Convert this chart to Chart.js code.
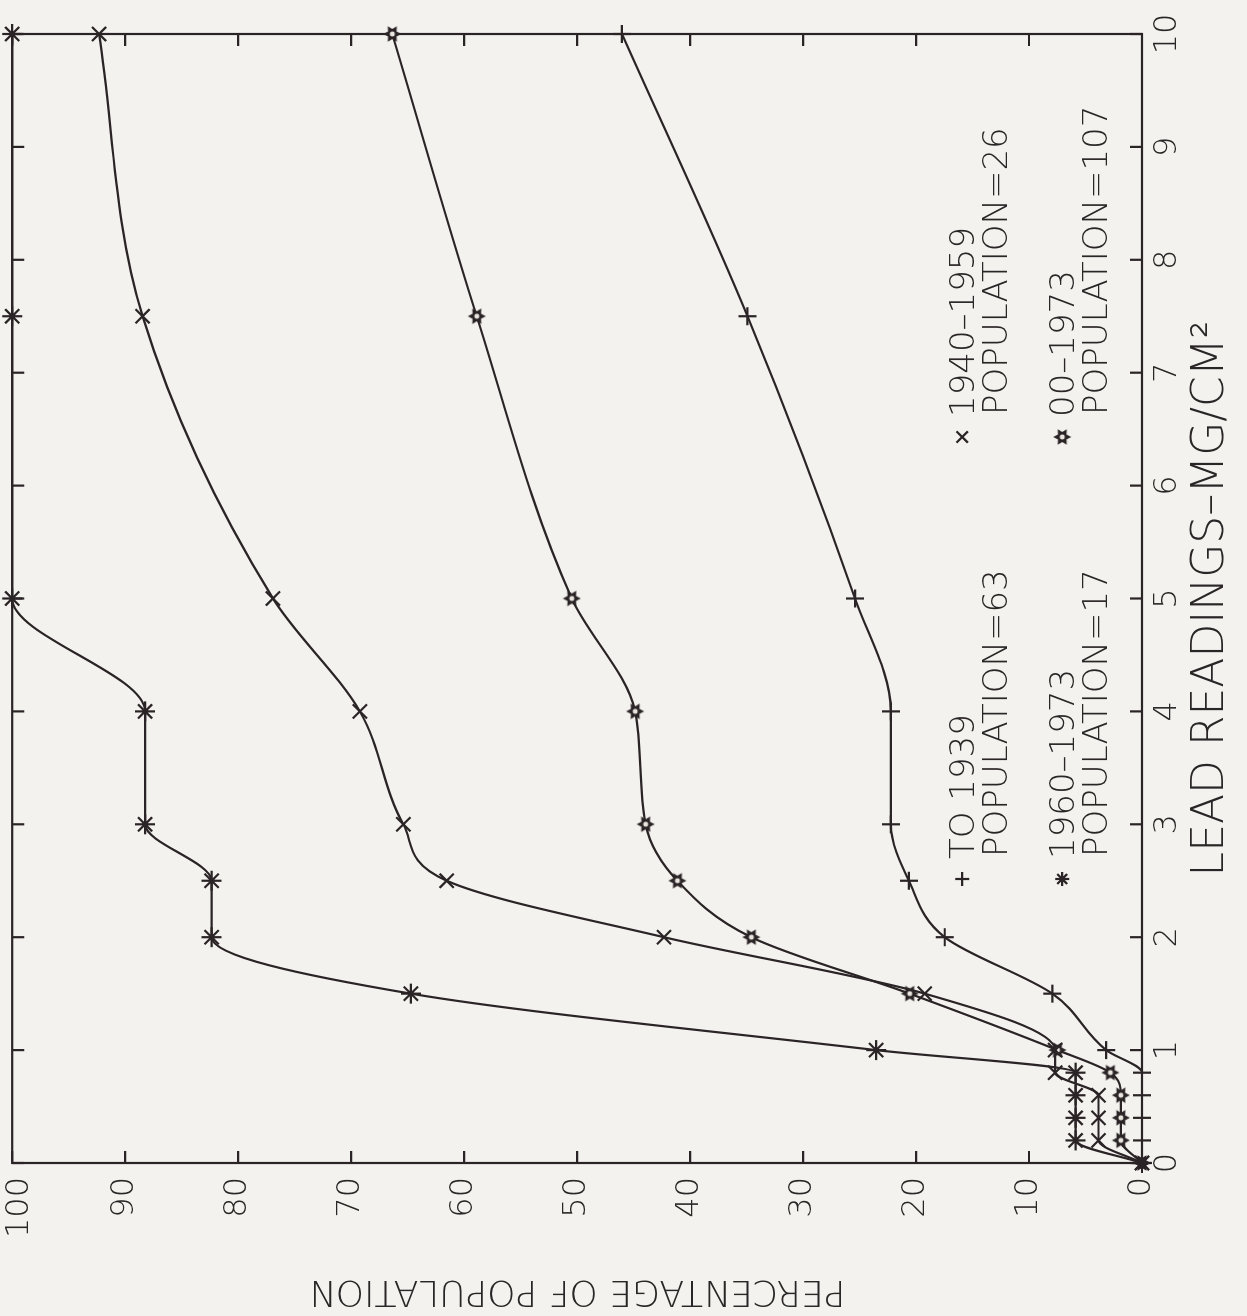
<!DOCTYPE html>
<html>
<head>
<meta charset="utf-8">
<script src="https://cdn.jsdelivr.net/npm/chart.js"></script>
<style>
  html, body { margin: 0; padding: 0; background: #f3f2ee; overflow: hidden; }
  #wrap { position: relative; width: 1247px; height: 1316px; overflow: hidden; background: #f3f2ee; }
  #c { position: absolute; left: 0; top: 0; width: 1316px; height: 1247px;
       transform-origin: 0 0; transform: translateY(1316px) rotate(-90deg); }
</style>
</head>
<body>
<div id="wrap"><canvas id="c" width="1316" height="1247"></canvas></div>
<script>
// ---- data ----
const leadReadings = [0, 0.2, 0.4, 0.6, 0.8, 1, 1.5, 2, 2.5, 3, 4, 5, 7.5, 10];
const to1939      = [0, 0, 0, 0, 0, 3.17, 7.94, 17.46, 20.63, 22.22, 22.22, 25.40, 34.92, 46.03];
const from1940    = [0, 3.85, 3.85, 3.85, 7.69, 7.69, 19.23, 42.31, 61.54, 65.38, 69.23, 76.92, 88.46, 92.31];
const from1960    = [0, 5.88, 5.88, 5.88, 5.88, 23.53, 64.71, 82.35, 82.35, 88.24, 88.24, 100, 100, 100];
const all1973     = [0, 1.87, 1.87, 1.87, 2.80, 7.48, 20.56, 34.58, 41.12, 43.93, 44.86, 50.47, 58.88, 66.36];
const seriesNames = ['TO 1939', '1940\u20131959', '1960\u20131973', '00\u20131973'];
const populations = ['POPULATION=63', 'POPULATION=26', 'POPULATION=17', 'POPULATION=107'];
const xTitle = 'LEAD READINGS\u2013MG/CM\u00B2';
const yTitle = 'PERCENTAGE OF POPULATION';
const leadRange = [0, 10];
const pctRange = [0, 100];

const INK = '#2b2426';
const TEXT = '#2a2526';
const FONT = "'DejaVu Sans', 'Liberation Sans', sans-serif";
const WEIGHT = '200';

// custom "flower" marker
function makeFlower() {
  const c = document.createElement('canvas');
  c.width = 20; c.height = 20;
  const g = c.getContext('2d');
  g.translate(10, 10);
  g.beginPath();
  for (let i = 0; i < 12; i++) {
    const r = i % 2 === 0 ? 9 : 5;
    const a = Math.PI / 6 * i - Math.PI / 2;
    const px = r * Math.cos(a), py = r * Math.sin(a);
    if (i === 0) g.moveTo(px, py); else g.lineTo(px, py);
  }
  g.closePath();
  g.fillStyle = INK; g.fill();
  g.beginPath(); g.arc(0, 0, 2.5, 0, Math.PI * 2);
  g.fillStyle = '#e9e6e0'; g.fill();
  return c;
}
const flower = makeFlower();
const styles = ['cross', 'crossRot', 'star', flower];
const seriesData = [to1939, from1940, from1960, all1973];

function pts(vals) { return leadReadings.map((x, i) => ({ x: x, y: vals[i] })); }

const datasets = seriesData.map((vals, i) => ({
  label: seriesNames[i],
  data: pts(vals),
  borderColor: INK,
  borderWidth: 2.2,
  pointStyle: styles[i],
  pointRadius: i === 0 ? 9 : 10,
  pointBorderWidth: 2.2,
  pointBorderColor: INK,
  pointBackgroundColor: INK,
  cubicInterpolationMode: 'monotone',
  fill: false,
  clip: false
}));

function drawMarker(ctx, style, cx, cy, r) {
  ctx.save();
  ctx.strokeStyle = INK; ctx.lineWidth = 2.2;
  if (typeof style !== 'string') {
    ctx.drawImage(style, cx - style.width / 2, cy - style.height / 2);
    ctx.restore(); return;
  }
  ctx.beginPath();
  if (style === 'cross' || style === 'star') {
    ctx.moveTo(cx - r, cy); ctx.lineTo(cx + r, cy);
    ctx.moveTo(cx, cy - r); ctx.lineTo(cx, cy + r);
  }
  if (style === 'crossRot' || style === 'star') {
    const d = r * Math.SQRT1_2;
    ctx.moveTo(cx - d, cy - d); ctx.lineTo(cx + d, cy + d);
    ctx.moveTo(cx - d, cy + d); ctx.lineTo(cx + d, cy - d);
  }
  ctx.stroke();
  ctx.restore();
}

// keep the top ("100") tick label inside the page, as in the reference
const edgeLabelPlugin = {
  id: 'edgeLabel',
  beforeDraw(chart) {
    const y = chart.scales.y;
    const items = y.getLabelItems(chart.chartArea);
    items.forEach(it => {
      if (it.label === '100' && it.options && it.options.translation) {
        it.options.translation[1] += 7;
      }
    });
  }
};

const framePlugin = {
  id: 'frame',
  beforeDatasetsDraw(chart) {
    const { ctx, chartArea: a, scales: { x, y } } = chart;
    ctx.save();
    ctx.strokeStyle = INK; ctx.lineWidth = 2.2;
    ctx.strokeRect(a.left, a.top, a.right - a.left, a.bottom - a.top);
    ctx.beginPath();
    x.ticks.forEach(t => {
      const px = x.getPixelForValue(t.value);
      ctx.moveTo(px, a.bottom); ctx.lineTo(px, a.bottom - 12);
      ctx.moveTo(px, a.top); ctx.lineTo(px, a.top + 12);
    });
    y.ticks.forEach(t => {
      const py = y.getPixelForValue(t.value);
      ctx.moveTo(a.left, py); ctx.lineTo(a.left + 12, py);
      ctx.moveTo(a.right, py); ctx.lineTo(a.right - 12, py);
    });
    ctx.stroke();
    ctx.restore();
  }
};

// legend drawn inside the plot area, two columns x two rows
const legendPlugin = {
  id: 'innerLegend',
  afterDatasetsDraw(chart) {
    const { ctx, chartArea: a } = chart;
    const cols = [a.left + 284, a.left + 726];
    const rows = [a.top + 950, a.top + 1050];
    const order = [[0, 0], [1, 0], [0, 1], [1, 1]]; // [col,row] per series
    ctx.save();
    ctx.fillStyle = TEXT;
    ctx.font = WEIGHT + ' 34px ' + FONT;
    ctx.textAlign = 'left';
    ctx.textBaseline = 'alphabetic';
    order.forEach(([c, r], i) => {
      const mx = cols[c], my = rows[r];
      drawMarker(ctx, styles[i], mx, my, i === 1 ? 8 : 7);
      ctx.fillText(seriesNames[i], mx + 20, my + 12);
      ctx.fillText(populations[i], mx + 22, my + 45);
    });
    ctx.restore();
  }
};

Chart.defaults.font.family = FONT;
Chart.defaults.font.weight = WEIGHT;
Chart.defaults.color = TEXT;

new Chart(document.getElementById('c'), {
  type: 'line',
  data: { datasets },
  options: {
    responsive: false,
    devicePixelRatio: 1,
    animation: false,
    layout: { padding: { top: 12, right: 34, left: 0, bottom: 0 } },
    plugins: { legend: { display: false }, tooltip: { enabled: false } },
    scales: {
      x: {
        type: 'linear', min: leadRange[0], max: leadRange[1],
        grid: { display: false, drawTicks: false },
        border: { display: false },
        ticks: { stepSize: 1, maxRotation: 0, autoSkip: false, padding: 6,
                 font: { size: 32, weight: WEIGHT }, color: TEXT },
        title: { display: true, text: xTitle, font: { size: 44, weight: WEIGHT }, color: TEXT,
                 padding: { top: 0, bottom: 9 } },
        afterFit(s) { s.height = 105; s.paddingLeft = 0; s.paddingRight = 0; }
      },
      y: {
        type: 'linear', min: pctRange[0], max: pctRange[1],
        grid: { display: false, drawTicks: false },
        border: { display: false },
        ticks: { stepSize: 10, padding: 14, font: { size: 32, weight: WEIGHT }, color: TEXT },
        title: { display: true, text: yTitle, font: { size: 36, weight: WEIGHT }, color: TEXT,
                 padding: { top: 4, bottom: 0 } },
        afterFit(s) { s.width = 153; s.paddingTop = 0; s.paddingBottom = 0; }
      }
    }
  },
  plugins: [edgeLabelPlugin, framePlugin, legendPlugin]
});
</script>
</body>
</html>
